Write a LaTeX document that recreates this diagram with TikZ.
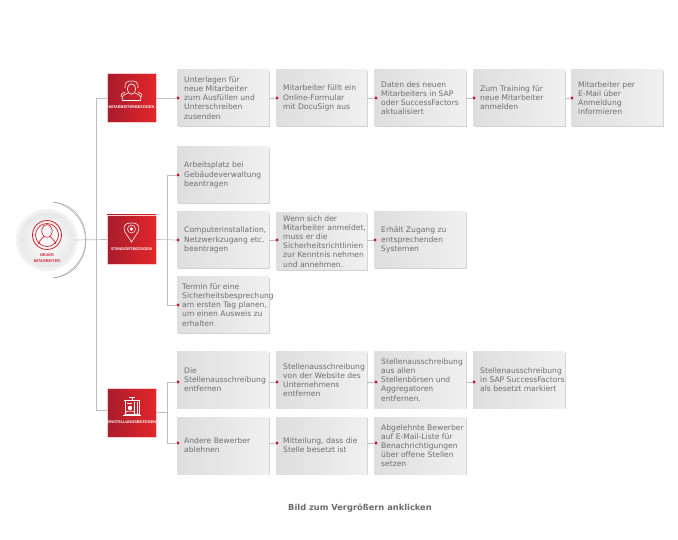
\documentclass[tikz,border=0pt]{standalone}
\usepackage{fontspec}
\setmainfont{DejaVu Sans}
\newfontfamily\capfont{Liberation Sans}
\usetikzlibrary{calc}
\definecolor{txt}{HTML}{6E6E6E}
\definecolor{conn}{HTML}{BDBDBD}
\definecolor{dotred}{HTML}{C8102E}
\definecolor{redl}{HTML}{A81C2C}
\definecolor{redr}{HTML}{E3262B}
\definecolor{iconred}{HTML}{CE2230}
\tikzset{
  x=1pt,y=-1pt,
  card/.style={rectangle,inner sep=0pt,outer sep=0pt,minimum width=92pt,minimum height=56pt,
    left color=black!13,right color=black!6,draw=none},
  cardshadow/.style={fill=black!18,draw=none},
  cardtext/.style={font=\fontsize{7.6}{9.1}\selectfont,text=txt,align=left,anchor=west,inner sep=0pt},
  redbox/.style={rectangle,inner sep=0pt,outer sep=0pt,minimum width=49pt,minimum height=49pt,
    left color=redl,right color=redr,draw=white!80!red,line width=.4pt},
  redlabel/.style={font=\capfont\bfseries\fontsize{3.9}{4.5}\selectfont,text=white,inner sep=0pt},
  link/.style={draw=conn,line width=.7pt},
  dotm/.style={circle,fill=dotred,inner sep=0pt,minimum size=3.2pt},
  ico/.style={draw=white,line width=.6pt,fill=none},
  icr/.style={draw=iconred,line width=.7pt,fill=none},
}
\newcommand{\card}[6]{% name x1 y1 x2 y2 text
  \fill[cardshadow] (#2+1,#3+1) rectangle (#4+1,#5+1);
  \node[card,minimum width=#4pt-#2pt,minimum height=#5pt-#3pt,anchor=north west] (#1) at (#2,#3) {};
  \node[cardtext] (#1t) at (#2+7,{(#3+#5)/2}) {#6};
}
\begin{document}
\begin{tikzpicture}
\useasboundingbox (0,0) rectangle (678,540);
\fill[white] (0,0) rectangle (678,540);

% hub
\shade[inner color=black!12,outer color=black!5] (47,240) circle (31);
\node[circle,minimum size=55pt,inner sep=0pt,outer sep=0pt,inner color=white,outer color=black!9] (hub) at (47,240) {};
\draw[black!35,line width=.5pt] (53,202) arc[start angle=-81,end angle=81,radius=38.5,y radius=38.5];
\draw[black!35,line width=.5pt] (53,202) .. controls (74,204) and (86,221) .. (86,240) .. controls (86,259) and (74,276) .. (53,278);
\draw[icr,line width=.8pt] (47,235) circle (14.5);
\draw[icr] (47,235) circle (11.5);
\draw[icr] (47,231) ellipse (5.2 and 6.3);
\draw[icr] (38.5,244) .. controls (40,239) and (43,238) .. (44,236.5);
\draw[icr] (55.5,244) .. controls (54,239) and (51,238) .. (50,236.5);
\node[font=\capfont\bfseries\fontsize{3.9}{5.6}\selectfont,text=iconred,align=center,inner sep=0pt] (hubt) at (47,258) {NEUER\\MITARBEITER};

% red category boxes
\node[redbox] (rA) at (131.5,98) {};
\node[redbox] (rB) at (131.5,239.5) {};
\node[redbox] (rC) at (131.5,412.5) {};
\node[redlabel] (rAt) at (131.5,107) {MITARBEITERBEZOGEN};
\node[redlabel] (rBt) at (131.5,249.5) {STANDORTBEZOGEN};
\node[redlabel] (rCt) at (131.5,422) {EINSTELLUNGSBEZOGEN};

% icon A : people
\draw[ico] (131.5,89) ellipse (4.2 and 5.2);
\draw[ico] (125,88) .. controls (124,82) and (128,81) .. (131.5,81) .. controls (135,81) and (139,82) .. (138,88);
\draw[ico] (122,100) .. controls (122,95) and (125,94) .. (128,93);
\draw[ico] (141,100) .. controls (141,95) and (138,94) .. (135,93);
\draw[ico] (122,100) -- (141,100);
\draw[ico] (125,92) .. controls (122,93) and (121,94) .. (121,97);
\draw[ico] (138,92) .. controls (141,93) and (142,94) .. (142,97);

% icon B : pin
\draw[ico] (131.5,242) -- (125,232) .. controls (122,224) and (127,223) .. (131.5,223) .. controls (136,223) and (141,224) .. (138,232) -- cycle;
\draw[ico,line width=.5pt] (131.5,229) circle (4);
\fill[white] (131.5,229) circle (1.8);

% icon C : office
\draw[ico] (125,400) rectangle (139,414);
\draw[ico] (124,400) -- (140,400) (129,397) -- (135,397) (132,397) -- (132,400);
\draw[ico,line width=.4pt] (134.5,402) -- (134.5,414) (137,402) -- (137,414) (126.5,403) -- (132,403);
\draw[ico] (123,415) -- (141,415);
\fill[white] (130,408) circle (2.2);
\draw[ico] (125,415) .. controls (125,411) and (128,411) .. (130,411) .. controls (132,411) and (135,411) .. (135,415);

% cards
\card{a1}{177}{70}{269}{126}{Unterlagen für\\neue Mitarbeiter\\zum Ausfüllen und\\Unterschreiben\\zusenden}
\card{a2}{276}{70}{367}{126}{Mitarbeiter füllt ein\\Online-Formular\\mit DocuSign aus}
\card{a3}{374}{70}{466}{126}{Daten des neuen\\Mitarbeiters in SAP\\oder SuccessFactors\\aktualisiert}
\card{a4}{473}{70}{565}{126}{Zum Training für\\neue Mitarbeiter\\anmelden}
\card{a5}{571}{70}{663}{126}{Mitarbeiter per\\E-Mail über\\Anmeldung\\informieren}

\card{b1}{177}{147}{269}{203}{Arbeitsplatz bei\\Gebäudeverwaltung\\beantragen}
\card{b2}{177}{212}{269}{268}{Computerinstallation,\\Netzwerkzugang etc.\\beantragen}
\card{b3}{276}{213}{367}{270}{}
\node[cardtext] (b3t) at (283,241.5) {Wenn sich der\\Mitarbeiter anmeldet,\\muss er die\\Sicherheitsrichtlinien\\zur Kenntnis nehmen\\und annehmen.};
\card{b4}{374}{212}{466}{268}{Erhält Zugang zu\\entsprechenden\\Systemen}
\card{b5}{177}{277}{269}{333}{}
\node[cardtext] (b5t) at (182,305) {Termin für eine\\Sicherheitsbesprechung\\am ersten Tag planen,\\um einen Ausweis zu\\erhalten};

\card{c1}{177}{352}{269}{408}{Die\\Stellenausschreibung\\entfernen}
\card{c2}{276}{352}{367}{408}{Stellenausschreibung\\von der Website des\\Unternehmens\\entfernen}
\card{c3}{374}{352}{466}{408}{Stellenausschreibung\\aus allen\\Stellenbörsen und\\Aggregatoren\\entfernen.}
\card{c4}{473}{352}{565}{408}{Stellenausschreibung\\in SAP SuccessFactors\\als besetzt markiert}
\card{c5}{177}{417}{269}{474}{Andere Bewerber\\ablehnen}
\card{c6}{276}{417}{367}{474}{Mitteilung, dass die\\Stelle besetzt ist}
\card{c7}{374}{417}{466}{474}{Abgelehnte Bewerber\\auf E-Mail-Liste für\\Benachrichtigungen\\über offene Stellen\\setzen}

% dots (free ends of connectors)
\foreach \n/\X/\Y in {a1/178/98,a2/277/98,a3/376/98,a4/474/98,a5/572/98,
  b1/178/175,b2/178/240,b3/277/240,b4/375/240,b5/178/305,
  c1/178/382,c2/277/382,c3/376/382,c4/474/382,c5/178/443,c6/277/443,c7/376/443}{
  \node[dotm] (d\n) at (\X,\Y) {};
}

% connectors
\draw[link] (hub.east) -- (rB.west);
\coordinate (tr1) at (96,98);
\coordinate (tr2) at (96,410);
\draw[link] (rA.west) -- (tr1) -- (tr2) -- (rC.west |- tr2);
\draw[link] (rA.east) -- (da1);
\draw[link] (a1.east |- da2) -- (da2);
\draw[link] (a2.east |- da3) -- (da3);
\draw[link] (a3.east |- da4) -- (da4);
\draw[link] (a4.east |- da5) -- (da5);
\draw[link] (rB.east) -- (db2);
\draw[link] (db1) -- (167,175) -- (167,305) -- (db5);
\draw[link] (b2.east |- db3) -- (db3);
\draw[link] (b3.east |- db4) -- (db4);
\draw[link] (rC.east |- 0,412) -- (167,412);
\draw[link] (dc1) -- (167,382) -- (167,443) -- (dc5);
\draw[link] (c1.east |- dc2) -- (dc2);
\draw[link] (c2.east |- dc3) -- (dc3);
\draw[link] (c3.east |- dc4) -- (dc4);
\draw[link] (c5.east |- dc6) -- (dc6);
\draw[link] (c6.east |- dc7) -- (dc7);

\node[font=\bfseries\fontsize{8.3}{10}\selectfont,text=black!58,inner sep=0pt] (cap) at (360,508) {Bild zum Vergrößern anklicken};
\end{tikzpicture}
\end{document}
